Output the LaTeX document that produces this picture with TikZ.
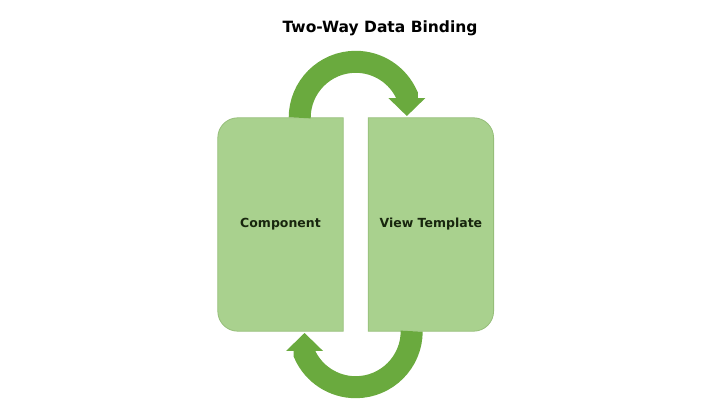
\documentclass[tikz,border=0pt]{standalone}
\usepackage{fontspec}
\setmainfont{DejaVu Sans}
\usetikzlibrary{positioning,arrows.meta,backgrounds}
\definecolor{panelgreen}{RGB}{169,209,142}
\definecolor{panelline}{RGB}{150,190,122}
\definecolor{bindgreen}{RGB}{106,170,62}
\definecolor{labeldark}{RGB}{24,38,14}
\begin{document}
\begin{tikzpicture}[x=1pt,y=1pt]
\useasboundingbox (0,0) rectangle (720,410);
\tikzstyle{panel} = [rectangle, minimum width=125pt, minimum height=213pt, inner sep=0pt, text=labeldark, font=\bfseries\fontsize{12.5}{15}\selectfont]
\tikzstyle{panelfill} = [fill=panelgreen, draw=panelline, line width=0.8pt]
\tikzstyle{bind} = [draw=bindgreen, line width=22pt, -{Triangle[length=18pt,width=37pt,line width=0pt]}]
\node (title) [font=\bfseries\fontsize{15.5}{18}\selectfont] at (380,382) {Two-Way Data Binding};
\node (comp) [panel] at (280.5,185.5) {Component};
\node (view) [panel, right=25pt of comp] {View Template};
\begin{scope}[on background layer]
\path [panelfill] (comp.north east) -- ([xshift=20pt]comp.north west) arc[start angle=90, end angle=180, radius=20pt] -- ([yshift=20pt]comp.south west) arc[start angle=180, end angle=270, radius=20pt] -- (comp.south east) -- cycle;
\path [panelfill] (view.north west) -- ([xshift=-20pt]view.north east) arc[start angle=90, end angle=0, radius=20pt] -- ([yshift=20pt]view.south east) arc[start angle=0, end angle=-90, radius=20pt] -- (view.south west) -- cycle;
\end{scope}
\coordinate [right=12.5pt of comp.north east] (topgap);
\coordinate [right=12.5pt of comp.south east] (botgap);
\draw [bind] ([xshift=-56pt]topgap) arc[start angle=180, end angle=24, radius=56pt] -- ++(0,-21);
\draw [bind] ([xshift=56pt]botgap) arc[start angle=0, end angle=-156, radius=56pt] -- ++(0,21);
\end{tikzpicture}
\end{document}
